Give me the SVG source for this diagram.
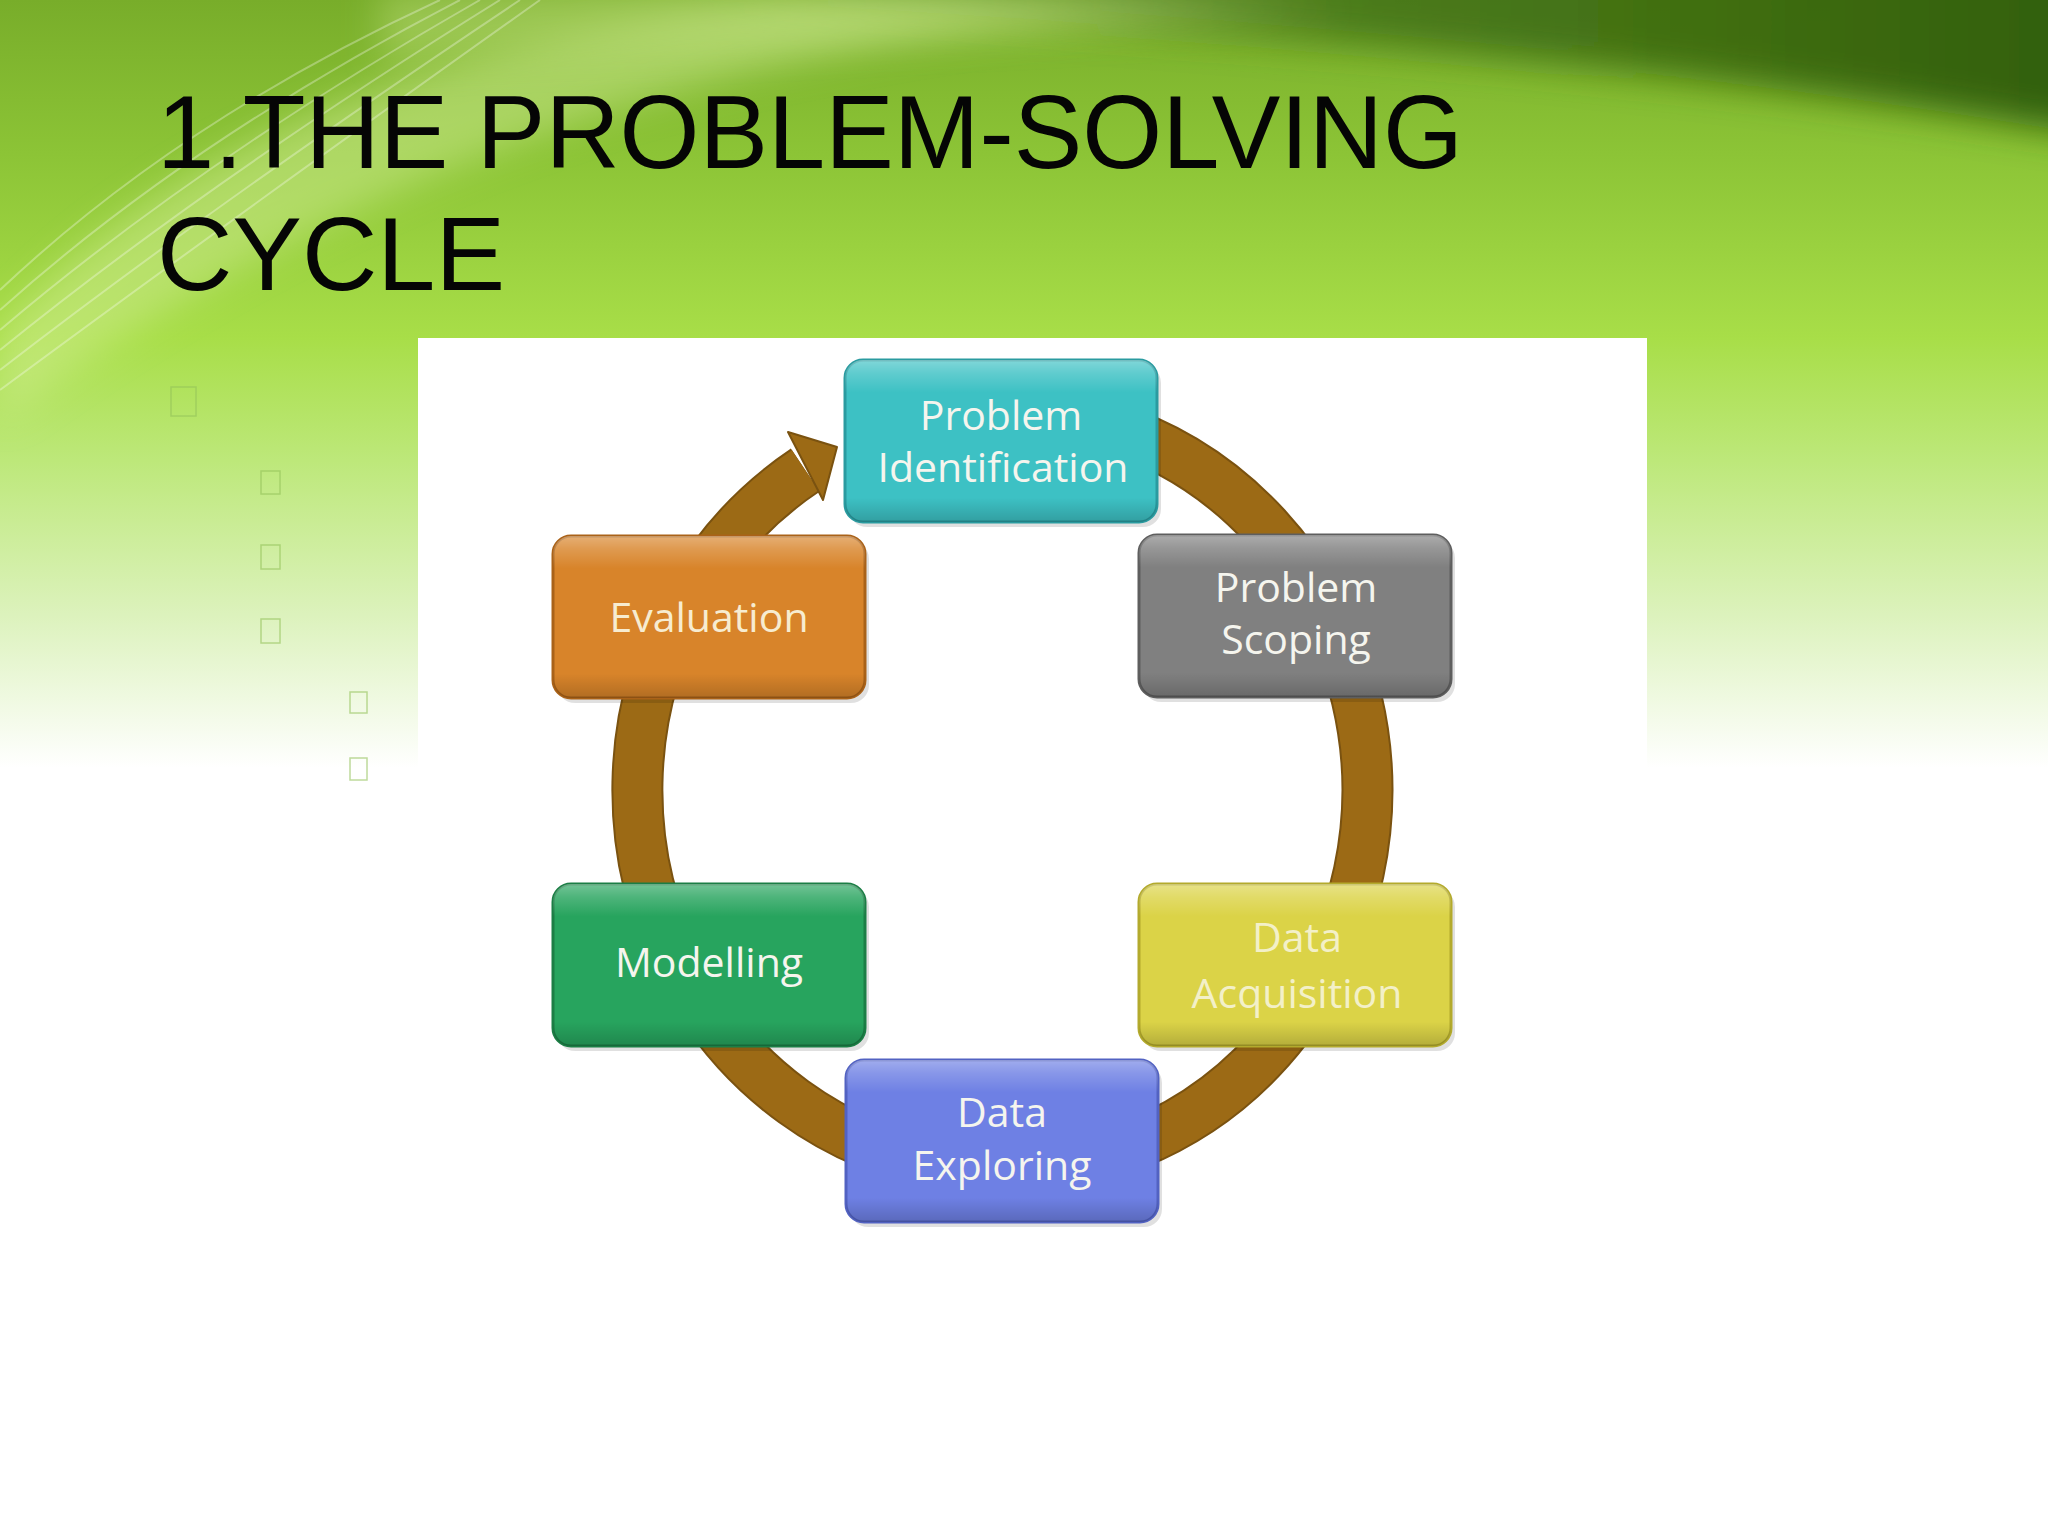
<svg xmlns="http://www.w3.org/2000/svg" width="2048" height="1536" viewBox="0 0 2048 1536">
  <defs>
    <linearGradient id="bg" x1="0" y1="0" x2="0" y2="1536" gradientUnits="userSpaceOnUse">
      <stop offset="0" stop-color="#78ad2a"/>
      <stop offset="0.1" stop-color="#8cc436"/>
      <stop offset="0.22" stop-color="#a8de48"/>
      <stop offset="0.3" stop-color="#bde87a"/>
      <stop offset="0.4" stop-color="#dcf2bc"/>
      <stop offset="0.5" stop-color="#ffffff"/>
      <stop offset="1" stop-color="#ffffff"/>
    </linearGradient>
    <linearGradient id="dark" x1="700" y1="0" x2="2048" y2="0" gradientUnits="userSpaceOnUse">
      <stop offset="0" stop-color="#4d7d18" stop-opacity="0"/>
      <stop offset="0.35" stop-color="#4a7a16" stop-opacity="0.85"/>
      <stop offset="1" stop-color="#336010" stop-opacity="1"/>
    </linearGradient>
    <linearGradient id="gloss" x1="0" y1="0" x2="0" y2="1">
      <stop offset="0" stop-color="#ffffff" stop-opacity="0.35"/>
      <stop offset="0.08" stop-color="#ffffff" stop-opacity="0.18"/>
      <stop offset="0.2" stop-color="#ffffff" stop-opacity="0"/>
      <stop offset="0.85" stop-color="#000000" stop-opacity="0"/>
      <stop offset="1" stop-color="#000000" stop-opacity="0.18"/>
    </linearGradient>
    <filter id="blur" x="-20%" y="-50%" width="140%" height="200%">
      <feGaussianBlur stdDeviation="18"/>
    </filter>
    <style>
      .title { font-family: "Liberation Sans", Arial, sans-serif; font-size: 104px; fill: #050505; }
      .bullet { fill: none; stroke: #93c25a; stroke-width: 1.5; stroke-opacity: 0.6; }
      .streak { fill: none; stroke: #ffffff; stroke-width: 2; stroke-opacity: 0.3; }
      .box { stroke-width: 3; }
      .shadow { fill: #000000; fill-opacity: 0.12; }
      .gloss { fill: url(#gloss); }
      .label { font-family: "Open Sans", "DejaVu Sans", sans-serif; font-size: 41px; fill: #f5f5ee; text-anchor: middle; }
      .ring { fill: none; stroke: #9c6a15; stroke-width: 48; }
      .ring-edge { fill: none; stroke: #7a5210; stroke-width: 52; }
      .head { fill: #9c6a15; stroke: #7a5210; stroke-width: 2; stroke-linejoin: round; }
    </style>
  </defs>

  <!-- background -->
  <rect x="0" y="0" width="2048" height="1536" fill="url(#bg)"/>
  <path d="M 700 -120 L 2120 -120 L 2120 140 C 1800 85 1400 35 700 0 Z" fill="url(#dark)" filter="url(#blur)"/>
  <path d="M 0 330 C 150 160 400 40 800 0 L 1300 0 C 900 20 450 90 0 420 Z" fill="#d8f09c" fill-opacity="0.45" filter="url(#blur)"/>
  <path d="M 380 -10 C 700 -20 1000 -10 1350 10 C 1000 35 700 45 380 60 Z" fill="#d4ee94" fill-opacity="0.35" filter="url(#blur)"/>
  <g id="streaks">
    <path class="streak" d="M 440 0 Q 180 120 0 290"/>
    <path class="streak" d="M 460 0 Q 190 140 0 310"/>
    <path class="streak" d="M 480 0 Q 200 160 0 330"/>
    <path class="streak" d="M 500 0 Q 210 180 0 350"/>
    <path class="streak" d="M 520 0 Q 220 200 0 370"/>
    <path class="streak" d="M 540 0 Q 230 220 0 390"/>
  </g>

  <!-- title -->
  <text class="title" x="157" y="168" textLength="1306" lengthAdjust="spacingAndGlyphs">1.THE PROBLEM-SOLVING</text>
  <text class="title" x="157" y="290" textLength="348" lengthAdjust="spacingAndGlyphs">CYCLE</text>

  <!-- bullets (empty glyph boxes) -->
  <g id="bullets">
    <rect class="bullet" x="171" y="387" width="25" height="29"/>
    <rect class="bullet" x="261" y="471" width="19" height="23"/>
    <rect class="bullet" x="261" y="545" width="19" height="24"/>
    <rect class="bullet" x="261" y="619" width="19" height="24"/>
    <rect class="bullet" x="350" y="692" width="17" height="21"/>
    <rect class="bullet" x="350" y="758" width="17" height="22"/>
  </g>

  <!-- picture panel -->
  <rect x="418" y="338" width="1229" height="1198" fill="#ffffff"/>

  <!-- connectors: cycle ring with arrow -->
  <g id="connectors">
    <path class="ring-edge" d="M 939.1 415.8 A 365 380 0 1 1 805.3 470.2"/>
    <path class="ring" d="M 939.1 415.8 A 365 380 0 1 1 805.3 470.2"/>
    <polygon class="head" points="788,432 823,500 837,447"/>
  </g>

  <!-- nodes -->
  <g id="node-problem-identification">
    <rect class="shadow" x="849" y="365" width="312" height="162" rx="18"/>
    <rect class="box" x="845" y="360" width="312" height="162" rx="18" fill="#3dc1c4" stroke="#2a9ba0"/>
    <rect class="gloss" x="845" y="360" width="312" height="162" rx="18"/>
    <text class="label" x="1001" y="430">Problem</text>
    <text class="label" x="1003" y="482">Identification</text>
  </g>

  <g id="node-problem-scoping">
    <rect class="shadow" x="1143" y="540" width="312" height="162" rx="18"/>
    <rect class="box" x="1139" y="535" width="312" height="162" rx="18" fill="#808080" stroke="#5e5e5e"/>
    <rect class="gloss" x="1139" y="535" width="312" height="162" rx="18"/>
    <text class="label" x="1296" y="602">Problem</text>
    <text class="label" x="1296" y="654">Scoping</text>
  </g>

  <g id="node-evaluation">
    <rect class="shadow" x="557" y="541" width="312" height="162" rx="18"/>
    <rect class="box" x="553" y="536" width="312" height="162" rx="18" fill="#d8842a" stroke="#aa6218"/>
    <rect class="gloss" x="553" y="536" width="312" height="162" rx="18"/>
    <text class="label" x="709" y="632" style="fill:#f7ecd0">Evaluation</text>
  </g>

  <g id="node-modelling">
    <rect class="shadow" x="557" y="889" width="312" height="162" rx="18"/>
    <rect class="box" x="553" y="884" width="312" height="162" rx="18" fill="#27a45e" stroke="#1b7e45"/>
    <rect class="gloss" x="553" y="884" width="312" height="162" rx="18"/>
    <text class="label" x="709" y="977">Modelling</text>
  </g>

  <g id="node-data-acquisition">
    <rect class="shadow" x="1143" y="889" width="312" height="162" rx="18"/>
    <rect class="box" x="1139" y="884" width="312" height="162" rx="18" fill="#dbd347" stroke="#b3aa2c"/>
    <rect class="gloss" x="1139" y="884" width="312" height="162" rx="18"/>
    <text class="label" x="1297" y="952" style="fill:#f3f0c8">Data</text>
    <text class="label" x="1297" y="1008" style="fill:#f3f0c8">Acquisition</text>
  </g>

  <g id="node-data-exploring">
    <rect class="shadow" x="850" y="1065" width="312" height="162" rx="18"/>
    <rect class="box" x="846" y="1060" width="312" height="162" rx="18" fill="#6e80e4" stroke="#5262c2"/>
    <rect class="gloss" x="846" y="1060" width="312" height="162" rx="18"/>
    <text class="label" x="1002" y="1127">Data</text>
    <text class="label" x="1002" y="1180">Exploring</text>
  </g>
</svg>
